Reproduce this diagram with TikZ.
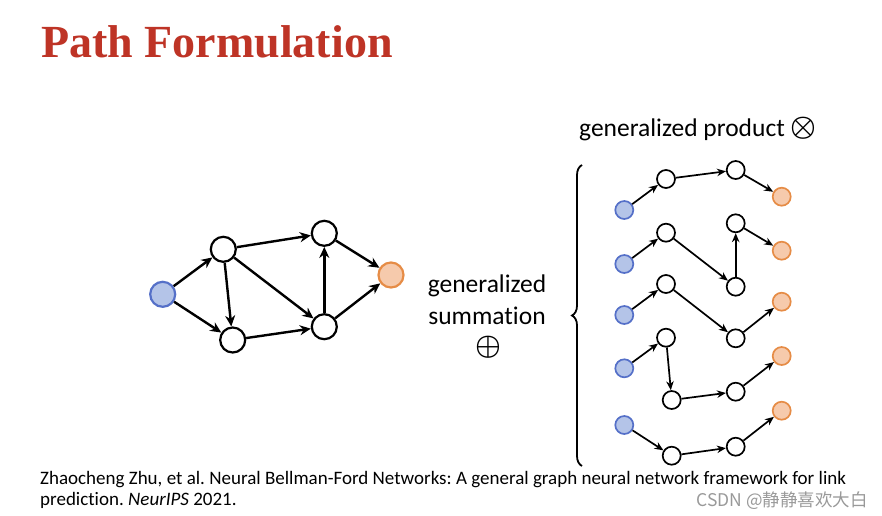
\documentclass[tikz,border=0pt]{standalone}
\usepackage{fontspec}
\setmainfont{Carlito}[Ligatures=NoCommon]
\newfontfamily\titlefont{Liberation Serif}
\newfontfamily\cjkfont{Noto Sans CJK SC}
\usetikzlibrary{arrows.meta,decorations.pathreplacing}
\definecolor{titlered}{RGB}{190,52,38}
\definecolor{srcfill}{RGB}{180,196,232}
\definecolor{srcdraw}{RGB}{85,112,200}
\definecolor{tgtfill}{RGB}{246,202,172}
\definecolor{tgtdraw}{RGB}{230,140,70}
\newcommand{\bigsym}[1]{\smash{\raisebox{-7.25pt}{\scalebox{2.9}{\boldmath$#1$}}}}
\tikzset{
  bignode/.style={circle,draw=black,line width=2.2pt,minimum size=25pt,inner sep=0pt,fill=white},
  bigsrc/.style={bignode,draw=srcdraw,fill=srcfill},
  bigtgt/.style={bignode,draw=tgtdraw,fill=tgtfill},
  smallnode/.style={circle,draw=black,line width=1.7pt,minimum size=18pt,inner sep=0pt,fill=white},
  smallsrc/.style={smallnode,draw=srcdraw,fill=srcfill},
  smalltgt/.style={smallnode,draw=tgtdraw,fill=tgtfill},
  bigedge/.style={line width=2.4pt,-{Stealth[length=11pt,width=10pt]}},
  smalledge/.style={line width=1.7pt,-{Stealth[length=9pt,width=7.5pt]}},
  lbl/.style={font=\fontsize{25.5}{30}\selectfont,inner sep=0pt},
  symb/.style={inner sep=0pt,font=\fontsize{10}{12}\selectfont,text height=9.5pt,text depth=9.5pt}
}
\begin{document}
\frenchspacing
\begin{tikzpicture}[x=1pt,y=-1pt]
\useasboundingbox (0,0) rectangle (882,515);
% title
\node[anchor=base west,inner sep=0pt,text=titlered,font=\titlefont\bfseries\fontsize{46}{50}\selectfont] (title) at (41,57) {Path Formulation};
% left graph
\node[bigsrc] (s) at (162.7,294.3) {};
\node[bignode] (a) at (223.3,249.3) {};
\node[bignode] (b) at (232.7,340) {};
\node[bignode] (c) at (324.3,233.3) {};
\node[bignode] (d) at (324.3,326.7) {};
\node[bigtgt] (t) at (391,275) {};
\draw[bigedge] (s) -- (a);
\draw[bigedge] (s) -- (b);
\draw[bigedge] (a) -- (c);
\draw[bigedge] (a) -- (b);
\draw[bigedge] (a) -- (d);
\draw[bigedge] (b) -- (d);
\draw[bigedge] (d) -- (c);
\draw[bigedge] (c) -- (t);
\draw[bigedge] (d) -- (t);
% middle text
\node[lbl] (gs1) at (487,286) {generalized};
\node[lbl] (gs2) at (487,316) {summation};
\node[symb] (oplus) at (488,347) {\bigsym{\oplus}};
% product label
\node[lbl,anchor=base west] (gp) at (579,136) {generalized product};
\node[symb] (otimes) at (803,128) {\bigsym{\otimes}};
% brace
\draw[line width=1.8pt,decorate,decoration={brace,amplitude=10pt,raise=0pt}] (582,466) -- (582,165);
% path 1
\node[smallsrc] (p1s) at (624.3,210) {};
\node[smallnode] (p1a) at (666,179) {};
\node[smallnode] (p1b) at (735.7,170) {};
\node[smalltgt] (p1t) at (781.7,196.7) {};
\draw[smalledge] (p1s) -- (p1a);
\draw[smalledge] (p1a) -- (p1b);
\draw[smalledge] (p1b) -- (p1t);
% path 2
\node[smallsrc] (p2s) at (624.3,264) {};
\node[smallnode] (p2a) at (666,232.7) {};
\node[smallnode] (p2b) at (735.7,286.7) {};
\node[smallnode] (p2c) at (735.7,223.3) {};
\node[smalltgt] (p2t) at (781.7,250.7) {};
\draw[smalledge] (p2s) -- (p2a);
\draw[smalledge] (p2a) -- (p2b);
\draw[smalledge] (p2b) -- (p2c);
\draw[smalledge] (p2c) -- (p2t);
% path 3
\node[smallsrc] (p3s) at (624.3,315) {};
\node[smallnode] (p3a) at (666,284) {};
\node[smallnode] (p3b) at (735.7,338.3) {};
\node[smalltgt] (p3t) at (781.7,301.7) {};
\draw[smalledge] (p3s) -- (p3a);
\draw[smalledge] (p3a) -- (p3b);
\draw[smalledge] (p3b) -- (p3t);
% path 4
\node[smallsrc] (p4s) at (624.3,368.3) {};
\node[smallnode] (p4a) at (666,337.7) {};
\node[smallnode] (p4b) at (671.7,400) {};
\node[smallnode] (p4c) at (735.7,391.7) {};
\node[smalltgt] (p4t) at (781.7,356) {};
\draw[smalledge] (p4s) -- (p4a);
\draw[smalledge] (p4a) -- (p4b);
\draw[smalledge] (p4b) -- (p4c);
\draw[smalledge] (p4c) -- (p4t);
% path 5
\node[smallsrc] (p5s) at (624.3,425) {};
\node[smallnode] (p5a) at (671.7,455.7) {};
\node[smallnode] (p5b) at (735.7,446.7) {};
\node[smalltgt] (p5t) at (781.7,410.7) {};
\draw[smalledge] (p5s) -- (p5a);
\draw[smalledge] (p5a) -- (p5b);
\draw[smalledge] (p5b) -- (p5t);
% citation
\node[anchor=base west,inner sep=0pt,font=\fontsize{19}{22}\selectfont] (cite1) at (40,484) {Zhaocheng Zhu, et al. Neural Bellman-Ford Networks: A general graph neural network framework for link};
\node[anchor=base west,inner sep=0pt,font=\fontsize{19}{22}\selectfont] (cite2) at (40,505) {prediction. \textit{NeurIPS} 2021.};
% watermark
\node[anchor=base east,inner sep=0pt,text=black!40,font=\cjkfont\fontsize{17.5}{20}\selectfont] (wm) at (868,506) {CSDN @静静喜欢大白};
\end{tikzpicture}
\end{document}
